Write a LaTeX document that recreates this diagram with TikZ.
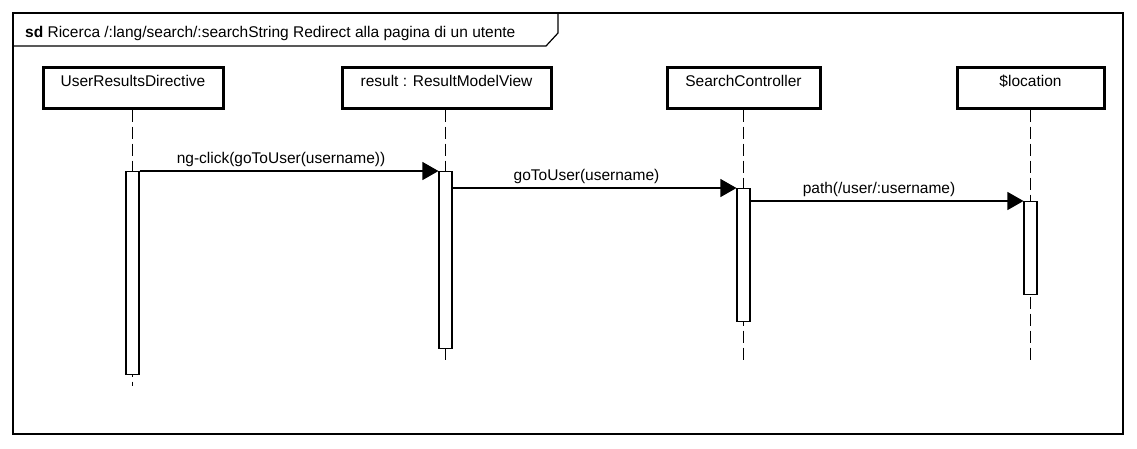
\documentclass[tikz,border=0pt]{standalone}
\usepackage{fontspec}
\setmainfont{Liberation Sans}
\usetikzlibrary{arrows.meta}
\begin{document}
\begin{tikzpicture}[x=1pt,y=-1pt,
  font=\fontsize{15.5}{18}\selectfont,
  head/.style={draw, line width=3pt, minimum height=41pt, text height=11pt, text depth=14pt, inner sep=0pt},
  act/.style={draw, fill=white, line width=1.1pt, minimum width=13pt, inner sep=0pt, anchor=north},
  life/.style={line width=1.1pt, dash pattern=on 12pt off 5pt},
  msg/.style={line width=1.1pt, -{Triangle[length=16pt,width=18pt]}},
  lbl/.style={midway, above, inner sep=4pt, xshift=-8pt}]
\useasboundingbox (0,0) rectangle (1137,448);
\draw[line width=1.2pt] (13,13) rectangle (1123,434);
\draw[line width=1.2pt] (13,46) -- (546,46) -- (558,33) -- (558,13);
\node[anchor=base west, inner sep=0pt] (title) at (25,37) {\textbf{sd} Ricerca /:lang/search/:searchString Redirect alla pagina di un utente};
\node[head, minimum width=180pt] (h1) at (133,87.5) {UserResultsDirective};
\node[head, minimum width=209pt] (h2) at (446.5,87.5) {result : ResultModelView};
\node[head, minimum width=153pt] (h3) at (743.5,87.5) {SearchController};
\node[head, minimum width=147pt] (h4) at (1030.5,87.5) {\$location};
\coordinate (e1) at (132.5,386);
\coordinate (e2) at (445.5,362);
\coordinate (e3) at (743.5,362);
\coordinate (e4) at (1030.5,362);
\draw[life] (h1.south -| e1) -- (e1);
\draw[life] (h2.south -| e2) -- (e2);
\draw[life] (h3.south -| e3) -- (e3);
\draw[life] (h4.south -| e4) -- (e4);
\node[act, minimum height=203pt] (a1) at (132.5,171) {};
\node[act, minimum height=177pt] (a2) at (445.5,171) {};
\node[act, minimum height=133pt] (a3) at (743.5,188) {};
\node[act, minimum height=93pt] (a4) at (1030.5,201) {};
\draw[msg] (a1.north east) -- (a2.north west) node[lbl] {ng-click(goToUser(username))};
\draw[msg] (a2.east |- a3.north) -- (a3.north west) node[lbl] {goToUser(username)};
\draw[msg] (a3.east |- a4.north) -- (a4.north west) node[lbl] {path(/user/:username)};
\end{tikzpicture}
\end{document}
